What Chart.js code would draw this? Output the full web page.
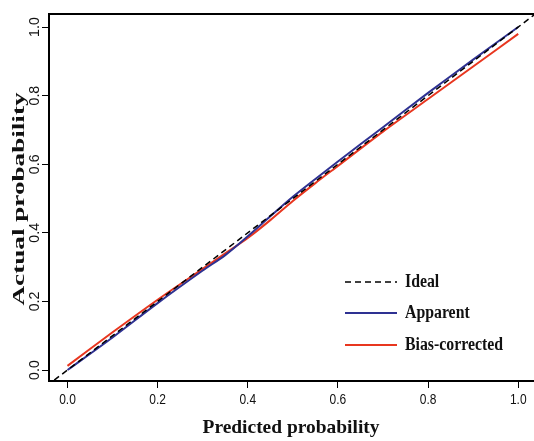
<!DOCTYPE html>
<html lang="en">
<head>
    <meta charset="UTF-8">
    <title>Calibration curve</title>
    <script src="https://cdn.jsdelivr.net/npm/chart.js"></script>
    <style>
        body { margin: 0; background: #FFFFFF; }
        canvas { display: block; }
    </style>
</head>
<body>
    <canvas id="calibChart" width="534" height="441"></canvas>
    <script>
        // data
        const tickValues = [0, 0.2, 0.4, 0.6, 0.8, 1.0];
        const tickLabels = ['0.0', '0.2', '0.4', '0.6', '0.8', '1.0'];
        const predicted = [0, 0.1, 0.2, 0.3, 0.35, 0.4, 0.45, 0.5, 0.55, 0.6, 0.7, 0.8, 0.9, 1.0];
        const apparent = [0, 0.095, 0.195, 0.29, 0.335, 0.39, 0.448, 0.505, 0.557, 0.608, 0.708, 0.808, 0.905, 1.0];
        const biasCorrected = [0.012, 0.11, 0.205, 0.295, 0.34, 0.385, 0.437, 0.493, 0.545, 0.595, 0.695, 0.79, 0.885, 0.98];
        const idealX = [-0.1, 1.1];
        const seriesNames = ['Ideal', 'Apparent', 'Bias-corrected'];

        const BLUE = '#2E3192';
        const RED = '#E8361F';

        const toPoints = (xs, ys) => xs.map((x, i) => ({ x: x, y: ys[i] }));

        // draws text squeezed horizontally (the source picture is a bit narrow)
        function squeezedText(ctx, text, x, y, sx, align) {
            ctx.save();
            ctx.translate(x, y);
            ctx.scale(sx, 1);
            ctx.textAlign = align;
            ctx.fillText(text, 0, 0);
            ctx.restore();
        }

        const decorPlugin = {
            id: 'decor',
            afterDraw(chart) {
                const ctx = chart.ctx;
                const area = chart.chartArea;
                const xs = chart.scales.x;
                const ys = chart.scales.y;

                // top frame line
                ctx.save();
                ctx.strokeStyle = '#000';
                ctx.lineWidth = 2;
                ctx.beginPath();
                ctx.moveTo(area.left - 1, area.top);
                ctx.lineTo(area.right, area.top);
                ctx.stroke();

                ctx.fillStyle = '#111';
                ctx.textBaseline = 'middle';

                // x tick labels
                ctx.font = '15px "Liberation Sans", Arial, sans-serif';
                tickValues.forEach((v, i) => {
                    squeezedText(ctx, tickLabels[i], xs.getPixelForValue(v), 400, 0.8, 'center');
                });

                // y tick labels, rotated like R
                ctx.font = '15px "Liberation Sans", Arial, sans-serif';
                tickValues.forEach((v, i) => {
                    ctx.save();
                    ctx.translate(35, ys.getPixelForValue(v));
                    ctx.rotate(-Math.PI / 2);
                    ctx.scale(0.95, 0.95);
                    ctx.textAlign = 'center';
                    ctx.fillText(tickLabels[i], 0, 0);
                    ctx.restore();
                });

                // axis titles
                ctx.fillStyle = '#111';
                ctx.font = 'bold 19px "Liberation Serif", "Times New Roman", serif';
                const xt = 'Predicted probability';
                const xsx = 177 / ctx.measureText(xt).width;
                ctx.textBaseline = 'alphabetic';
                squeezedText(ctx, xt, 291, 433, xsx, 'center');

                ctx.font = 'bold 20px "Liberation Serif", "Times New Roman", serif';
                const yt = 'Actual probability';
                const ysx = 213 / ctx.measureText(yt).width;
                ctx.save();
                ctx.translate(24, 199);
                ctx.rotate(-Math.PI / 2);
                ctx.scale(ysx, 0.88);
                ctx.textAlign = 'center';
                ctx.fillText(yt, 0, 0);
                ctx.restore();

                // legend inside the plot
                ctx.font = 'bold 18px "Liberation Serif", "Times New Roman", serif';
                const lsx = 98 / ctx.measureText('Bias-corrected').width;
                const rows = [282, 313, 345];
                chart.data.datasets.forEach((ds, i) => {
                    const y = rows[i];
                    ctx.save();
                    ctx.strokeStyle = ds.borderColor;
                    ctx.lineWidth = ds.borderWidth;
                    ctx.setLineDash(ds.borderDash || []);
                    ctx.beginPath();
                    ctx.moveTo(345, y);
                    ctx.lineTo(397, y);
                    ctx.stroke();
                    ctx.restore();
                    ctx.fillStyle = '#111';
                    ctx.textBaseline = 'middle';
                    squeezedText(ctx, seriesNames[i], 405, y, lsx, 'left');
                });
                ctx.restore();
            }
        };

        const axisOpts = (min, max, fit) => ({
            type: 'linear',
            min: min,
            max: max,
            afterBuildTicks: scale => { scale.ticks = tickValues.map(v => ({ value: v })); },
            afterFit: fit,
            ticks: { display: false },
            grid: {
                drawOnChartArea: false,
                drawTicks: true,
                tickLength: 7,
                color: '#000',
                lineWidth: 1
            },
            border: { display: true, color: '#000', width: 2 }
        });

        new Chart(document.getElementById('calibChart'), {
            type: 'scatter',
            data: {
                datasets: [
                    {
                        label: seriesNames[0],
                        data: toPoints(idealX, idealX),
                        borderColor: '#000',
                        borderWidth: 1.5,
                        borderDash: [6, 4],
                        showLine: true,
                        pointRadius: 0
                    },
                    {
                        label: seriesNames[1],
                        data: toPoints(predicted, apparent),
                        borderColor: BLUE,
                        borderWidth: 2,
                        showLine: true,
                        tension: 0.3,
                        pointRadius: 0
                    },
                    {
                        label: seriesNames[2],
                        data: toPoints(predicted, biasCorrected),
                        borderColor: RED,
                        borderWidth: 2,
                        showLine: true,
                        tension: 0.3,
                        pointRadius: 0
                    }
                ]
            },
            options: {
                responsive: false,
                animation: false,
                layout: { padding: { top: 14, right: 0, left: 0, bottom: 0 } },
                plugins: {
                    legend: { display: false },
                    tooltip: { enabled: false }
                },
                scales: {
                    x: axisOpts(-0.041, 1.035, scale => { scale.height = 60; }),
                    y: axisOpts(-0.032, 1.038, scale => { scale.width = 49; })
                }
            },
            plugins: [decorPlugin]
        });
    </script>
</body>
</html>
